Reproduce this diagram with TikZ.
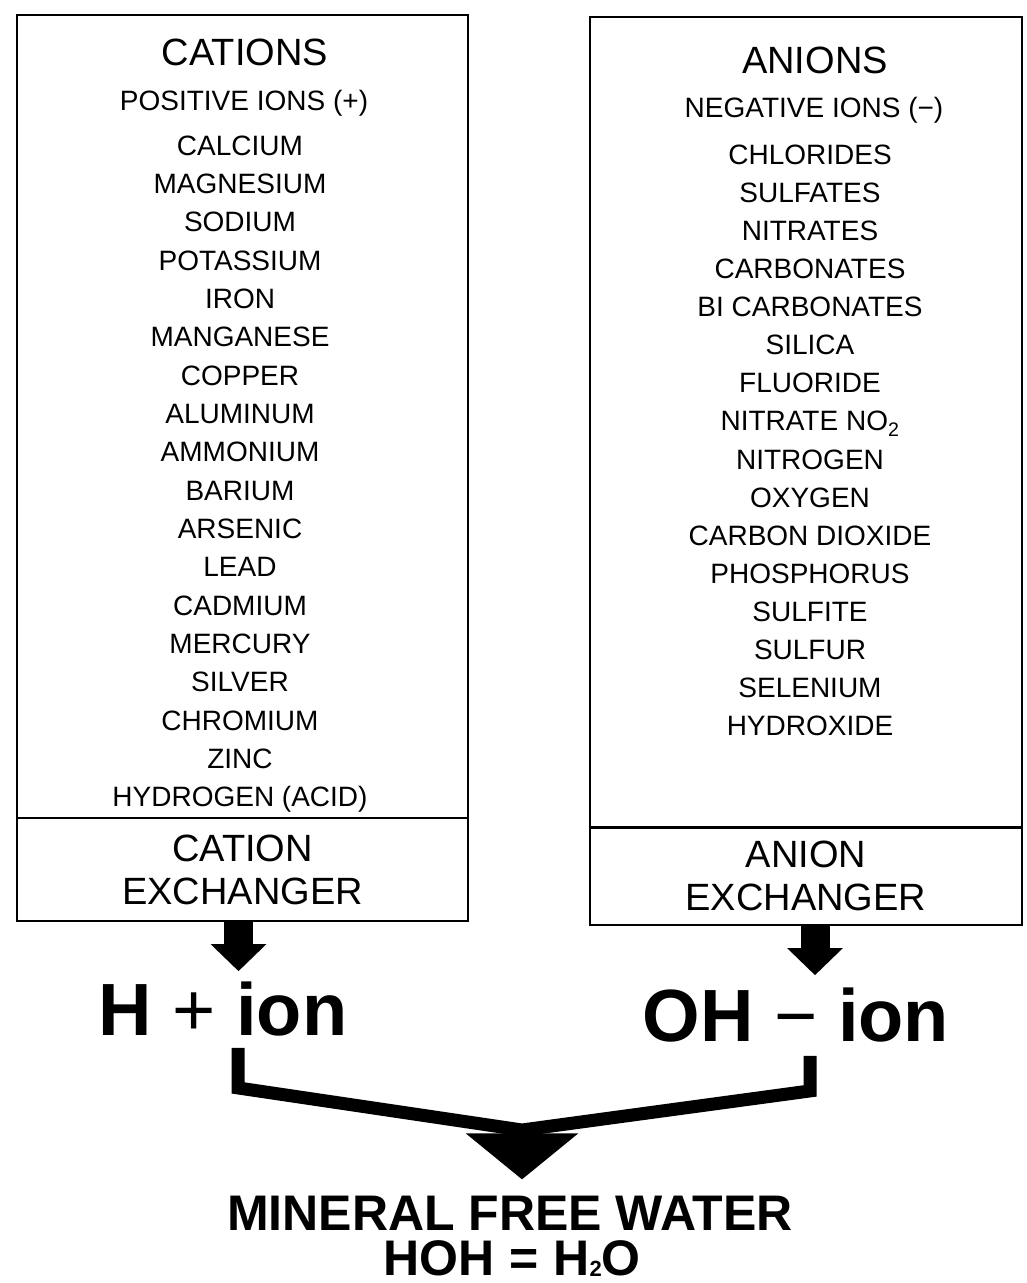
\documentclass[tikz,border=0pt]{standalone}
\usepackage{fontspec}
\setmainfont{Liberation Sans}
\usetikzlibrary{arrows.meta}

\newcommand{\subdois}{\raisebox{-1pt}{\fontsize{22}{22}\selectfont 2}}

\begin{document}
\begin{tikzpicture}[x=1pt, y=-1pt,
    caixa/.style={draw, line width=2.6pt, inner sep=0pt},
    titulo/.style={font=\fontsize{38}{43}\selectfont, align=center, inner sep=0pt},
    elemento/.style={font=\fontsize{28}{28}\selectfont, inner sep=0pt, anchor=base},
    iontxt/.style={font=\fontsize{74}{74}\selectfont\bfseries, inner sep=0pt, anchor=base},
    aguatxt/.style={font=\fontsize{50}{50}\selectfont\bfseries, inner sep=0pt, anchor=base},
    seta/.style={line width=29pt, -{Triangle[length=27pt, width=54pt]}},
    barra/.style={line width=13pt, line join=miter}]
    \useasboundingbox (0,0) rectangle (1027,1283);

    % caixas
    \node[caixa, minimum width=451pt, minimum height=803pt] (catbox) at (242.5,416.5) {};
    \node[caixa, titulo, minimum width=451pt, minimum height=103pt] (catex) at (242.5,869.5) {CATION\\EXCHANGER};
    \node[caixa, minimum width=432pt, minimum height=811pt] (anbox) at (806,422.5) {};
    \node[caixa, titulo, minimum width=432pt, minimum height=98pt] (anex) at (806,876) {ANION\\EXCHANGER};

    % cabecalhos
    \node[titulo] (cations) at (245,52) {CATIONS};
    \node[elemento] (poscab) at (244,110) {POSITIVE IONS (+)};
    \node[titulo] (anions) at (815,60) {ANIONS};
    \node[elemento] (negcab) at (814,117) {NEGATIVE IONS (−)};

    % cations
    \foreach \el [count=\i from 0] in {CALCIUM, MAGNESIUM, SODIUM, POTASSIUM, IRON,
        MANGANESE, COPPER, ALUMINUM, AMMONIUM, BARIUM, ARSENIC, LEAD, CADMIUM,
        MERCURY, SILVER, CHROMIUM, ZINC, HYDROGEN (ACID)}
        \node[elemento] (cat\i) at (240,155+38.35*\i) {\el};

    % anions
    \foreach \el [count=\i from 0] in {CHLORIDES, SULFATES, NITRATES, CARBONATES,
        BI CARBONATES, SILICA, FLUORIDE, NITRATE NO\textsubscript{2}, NITROGEN, OXYGEN,
        CARBON DIOXIDE, PHOSPHORUS, SULFITE, SULFUR, SELENIUM, HYDROXIDE}
        \node[elemento] (an\i) at (810,164+38.13*\i) {\el};

    % ions
    \node[iontxt] (hion) at (223,1035) {H {\mdseries +} ion};
    \node[iontxt] (ohion) at (796,1041) {OH {\mdseries −} ion};

    \draw[seta, shorten >=10pt] ([xshift=-4pt]catex.south) -- ([xshift=-4pt]catex.south |- hion.north);
    \draw[seta, shorten >=12pt] ([xshift=9pt]anex.south) -- ([xshift=9pt]anex.south |- ohion.north);

    % agua
    \node[aguatxt] (agua) at (510,1230) {MINERAL FREE WATER};
    \node[aguatxt] (formula) at (512,1275) {HOH\hspace{0.3em}=\hspace{0.3em}H\subdois O};

    \coordinate (uniao) at (522,1130);
    \draw[barra] ([xshift=15pt,yshift=-12pt]hion.south) -- ++(0,40) -- (uniao)
        -- ([xshift=14pt,yshift=-49pt]ohion.south) -- ++(0,-35);
    \draw[line width=13pt, shorten >=16pt, -{Triangle[length=46pt, width=110pt]}]
        (uniao) -- (uniao |- agua.north);
\end{tikzpicture}
\end{document}
